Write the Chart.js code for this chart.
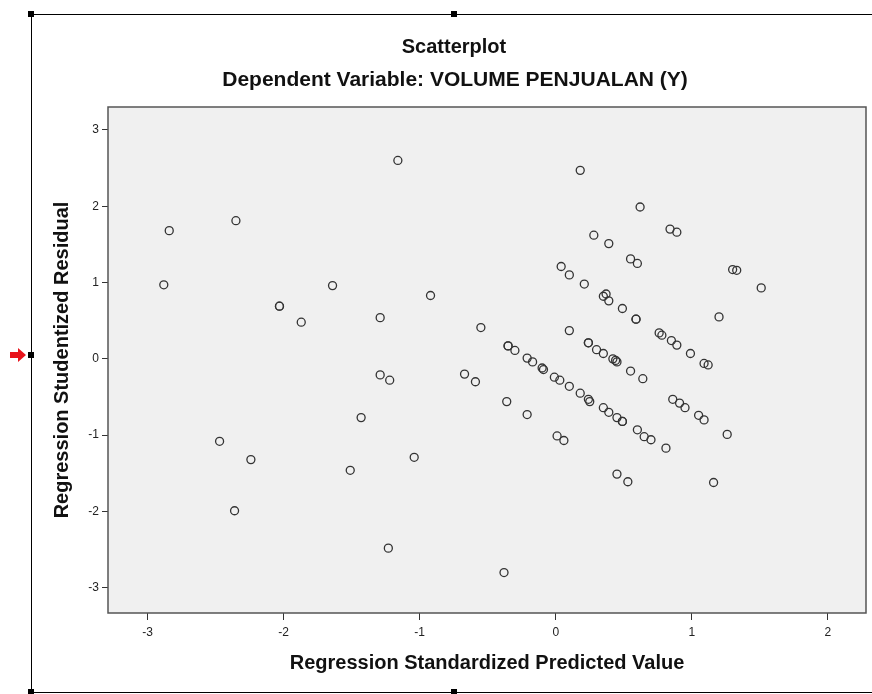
<!DOCTYPE html>
<html>
<head>
<meta charset="utf-8">
<title>Scatterplot</title>
<script src="https://cdn.jsdelivr.net/npm/chart.js@4"></script>
<style>
  html, body { margin: 0; padding: 0; background: #fff; }
  #wrap { position: relative; width: 872px; height: 694px; }
</style>
</head>
<body>
<div id="wrap"><canvas id="chart" width="872" height="694"></canvas></div>
<script>
const predicted = [
  -2.84, -2.35, -2.88, -2.03, -2.03, -1.87, -1.64, -2.47, -2.24, -2.36,
  -1.51, -1.16, -0.92, -1.29, -1.29, -1.22, -1.43, -1.04, -1.23, -0.67,
  -0.59, -0.55, -0.36, -0.21, -0.38, 0.01, 0.06,
  -0.35, -0.35, -0.30, -0.21, -0.17, -0.10, -0.09, -0.01, 0.03, 0.10,
  0.18, 0.24, 0.25, 0.35, 0.39, 0.45, 0.49, 0.49, 0.60, 0.65, 0.70, 0.81,
  0.04, 0.10, 0.21, 0.35, 0.37, 0.39, 0.49, 0.59, 0.59,
  0.10, 0.24, 0.24, 0.30, 0.35, 0.42, 0.44, 0.45, 0.55, 0.64,
  0.28, 0.39, 0.55, 0.60, 0.62, 0.84, 0.89, 0.18,
  0.76, 0.78, 0.85, 0.89, 0.99, 1.09, 1.12,
  1.20, 1.30, 1.33, 1.51,
  0.86, 0.91, 0.95, 1.05, 1.09, 1.26,
  0.45, 0.53, 1.16
];
const residual = [
  1.68, 1.81, 0.97, 0.69, 0.69, 0.48, 0.96, -1.08, -1.32, -1.99,
  -1.46, 2.60, 0.83, 0.54, -0.21, -0.28, -0.77, -1.29, -2.48, -0.20,
  -0.30, 0.41, -0.56, -0.73, -2.80, -1.01, -1.07,
  0.17, 0.17, 0.11, 0.01, -0.04, -0.12, -0.14, -0.24, -0.28, -0.36,
  -0.45, -0.53, -0.56, -0.64, -0.70, -0.77, -0.82, -0.82, -0.93, -1.02, -1.06, -1.17,
  1.21, 1.10, 0.98, 0.82, 0.85, 0.76, 0.66, 0.52, 0.52,
  0.37, 0.21, 0.21, 0.12, 0.07, 0.00, -0.02, -0.04, -0.16, -0.26,
  1.62, 1.51, 1.31, 1.25, 1.99, 1.70, 1.66, 2.47,
  0.34, 0.31, 0.24, 0.18, 0.07, -0.06, -0.08,
  0.55, 1.17, 1.16, 0.93,
  -0.53, -0.58, -0.64, -0.74, -0.80, -0.99,
  -1.51, -1.61, -1.62
];
const xTicks = [-3, -2, -1, 0, 1, 2];
const yTicks = [-3, -2, -1, 0, 1, 2, 3];

const chartTitle = "Scatterplot";
const chartSubtitle = "Dependent Variable: VOLUME PENJUALAN (Y)";
const xTitle = "Regression Standardized Predicted Value";
const yTitle = "Regression Studentized Residual";

const points = predicted.map((x, i) => ({ x: x, y: residual[i] }));

// grey plot box, titles and the SPSS viewer frame
const spssFrame = {
  id: "spssFrame",
  beforeDraw(chart) {
    const { ctx, chartArea: a } = chart;
    ctx.save();
    ctx.fillStyle = "#f0f0f0";
    ctx.fillRect(a.left, a.top, a.right - a.left, a.bottom - a.top);
    ctx.restore();
  },
  afterDraw(chart) {
    const { ctx, chartArea: a } = chart;
    ctx.save();
    ctx.strokeStyle = "#555";
    ctx.lineWidth = 1.5;
    ctx.strokeRect(a.left, a.top, a.right - a.left, a.bottom - a.top);

    // viewer frame
    ctx.strokeStyle = "#000";
    ctx.lineWidth = 1;
    ctx.beginPath();
    ctx.moveTo(31.5, 14.5); ctx.lineTo(872, 14.5);
    ctx.moveTo(31.5, 14.5); ctx.lineTo(31.5, 694);
    ctx.moveTo(31.5, 692.5); ctx.lineTo(872, 692.5);
    ctx.stroke();
    ctx.fillStyle = "#000";
    [[31, 14], [454, 14], [31, 355], [31, 692], [454, 692]].forEach(p => {
      ctx.fillRect(p[0] - 3, p[1] - 3, 6, 6);
    });
    // red marker arrow
    ctx.fillStyle = "#e8141c";
    ctx.beginPath();
    ctx.moveTo(10, 352); ctx.lineTo(18, 352); ctx.lineTo(18, 348);
    ctx.lineTo(26, 355); ctx.lineTo(18, 362); ctx.lineTo(18, 358);
    ctx.lineTo(10, 358); ctx.closePath();
    ctx.fill();

    // titles
    ctx.fillStyle = "#111";
    ctx.textAlign = "center";
    ctx.textBaseline = "middle";
    ctx.font = "bold 20px 'Liberation Sans', Arial, sans-serif";
    ctx.fillText(chartTitle, 454, 47);
    ctx.font = "bold 21px 'Liberation Sans', Arial, sans-serif";
    ctx.fillText(chartSubtitle, 455, 80);
    ctx.restore();
  }
};

new Chart(document.getElementById("chart"), {
  type: "scatter",
  data: {
    datasets: [{
      data: points,
      pointStyle: "circle",
      pointRadius: 4,
      pointHoverRadius: 4,
      borderWidth: 1.3,
      borderColor: "#333",
      backgroundColor: "rgba(0,0,0,0)"
    }]
  },
  options: {
    responsive: false,
    animation: false,
    layout: { padding: { left: 0, top: 107, right: 6, bottom: 0 } },
    plugins: {
      legend: { display: false },
      tooltip: { enabled: false }
    },
    scales: {
      x: {
        type: "linear",
        min: -3.29,
        max: 2.28,
        afterBuildTicks: (s) => { s.ticks = xTicks.map(v => ({ value: v })); },
        afterFit: (s) => { s.height = 81; },
        grid: { drawOnChartArea: false, drawTicks: true, tickLength: 7, color: "#333" },
        border: { display: false },
        ticks: {
          padding: 5,
          color: "#222",
          font: { family: "'Liberation Sans', Arial, sans-serif", size: 12 }
        },
        title: {
          display: true,
          text: xTitle,
          color: "#111",
          padding: { top: 0, bottom: 19 },
          font: { family: "'Liberation Sans', Arial, sans-serif", size: 20, weight: "bold" }
        }
      },
      y: {
        type: "linear",
        min: -3.33,
        max: 3.30,
        afterBuildTicks: (s) => { s.ticks = yTicks.map(v => ({ value: v })); },
        afterFit: (s) => { s.width = 108; },
        grid: { drawOnChartArea: false, drawTicks: true, tickLength: 6, color: "#333" },
        border: { display: false },
        ticks: {
          padding: 3,
          color: "#222",
          font: { family: "'Liberation Sans', Arial, sans-serif", size: 12 }
        },
        title: {
          display: true,
          text: yTitle,
          color: "#111",
          padding: { top: 50, bottom: 0 },
          font: { family: "'Liberation Sans', Arial, sans-serif", size: 20, weight: "bold" }
        }
      }
    }
  },
  plugins: [spssFrame]
});
</script>
</body>
</html>
